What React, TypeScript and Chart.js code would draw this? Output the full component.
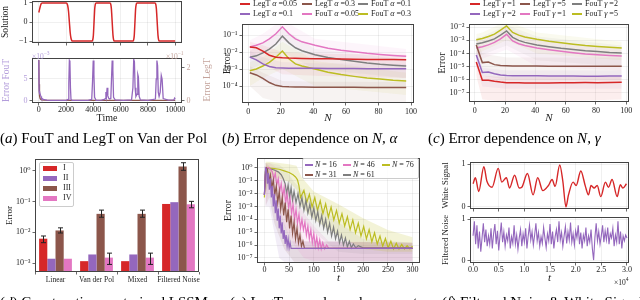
import React, { useEffect, useRef } from 'react';
import { Chart, registerables } from 'chart.js';

Chart.register(...registerables);

const FONT = "'Liberation Serif', 'DejaVu Serif', 'Times New Roman', serif";
Chart.defaults.font.family = FONT;
Chart.defaults.font.size = 8;
Chart.defaults.color = '#222';

const RED = '#d62728';
const PURPLE = '#9467bd';
const BROWN = '#8c564b';
const PINK = '#e377c2';
const GRAY = '#7f7f7f';
const OLIVE = '#bcbd22';
const PURPLE_L = '#b39ddb';
const BROWN_L = '#c4a39b';
const GRID = 'rgba(0,0,0,0.08)';

// ---------------- (a) FouT and LegT on Van der Pol ----------------
const aXTicks = [0, 2000, 4000, 6000, 8000, 10000];
const aSolTicks = [-1, 0, 1];
const aSolT = [0, 50, 100, 150, 200, 260, 2000, 2060, 2120, 2180, 2240, 2300, 2360, 2420, 2480, 3900, 3950, 4000, 4050, 4100, 4150, 4200, 5220, 5270, 5320, 5380, 5440, 5490, 5540, 6900, 6950, 7000, 7050, 7100, 7150, 7200, 8520, 8570, 8620, 8680, 8740, 8790, 8840, 10000];
const aSolV = [0.5, 0.65, 0.8, 0.92, 0.98, 1.0, 1.0, 0.97, 0.85, 0.55, 0.0, -0.55, -0.85, -0.97, -1.0, -1.0, -0.95, -0.7, 0.0, 0.7, 0.95, 1.0, 1.0, 0.95, 0.7, 0.0, -0.7, -0.95, -1.0, -1.0, -0.95, -0.7, 0.0, 0.7, 0.95, 1.0, 1.0, 0.95, 0.7, 0.0, -0.7, -0.95, -1.0, -1.0];
// FouT error in units of 1e-3
const aFouT = [0, 20, 40, 80, 120, 160, 200, 300, 400, 600, 800, 1000, 1500, 2000, 2150, 2200, 2240, 2280, 2320, 2360, 2450, 3000, 3600, 3880, 3940, 3990, 4040, 4090, 4200, 4600, 4800, 4880, 4920, 4960, 5010, 5060, 5120, 5200, 5280, 5330, 5380, 5430, 5480, 5600, 6200, 6800, 6900, 6960, 7010, 7060, 7120, 7200, 7260, 7300, 7360, 7450, 8000, 8550, 8610, 8660, 8710, 8760, 8820, 8900, 8980, 9040, 9120, 9500, 9900, 9960, 10000];
const aFouV = [9.3, 2.2, 1.5, 2.0, 1.3, 1.0, 0.6, 0.4, 0.25, 0.15, 0.12, 0.1, 0.1, 0.1, 0.3, 4.0, 9.2, 8.8, 3.0, 0.3, 0.1, 0.08, 0.1, 0.3, 4.5, 9.2, 6.0, 0.8, 0.1, 0.15, 0.3, 0.5, 2.0, 1.0, 3.0, 1.2, 0.6, 0.4, 0.5, 5.0, 9.2, 7.0, 0.8, 0.2, 0.1, 0.2, 3.0, 9.5, 9.0, 3.0, 1.0, 1.5, 6.0, 5.5, 1.0, 0.2, 0.1, 0.4, 5.0, 9.2, 8.0, 2.0, 1.0, 2.0, 5.8, 5.0, 0.5, 0.15, 0.2, 0.6, 0.4];
const aFouTicks = [0, 5];
// LegT error in units of 1e-1
const aLegT = [0, 20, 50, 100, 200, 400, 1000, 3000, 5000, 7000, 9000, 10000];
const aLegV = [2.45, 1.0, 0.3, 0.12, 0.06, 0.04, 0.03, 0.03, 0.03, 0.03, 0.03, 0.03];
const aLegTicks = [0, 2];

// ---------------- (b) Error dependence on N, alpha ----------------
const bN = [1, 5, 9, 13, 17, 21, 25, 29, 33, 41, 49, 57, 65, 73, 81, 89, 97];
const bLegT005 = [2e-2, 1.8e-2, 1.15e-2, 6.5e-3, 5e-3, 4.6e-3, 4.4e-3, 4.3e-3, 4.2e-3, 4.1e-3, 4e-3, 3.9e-3, 3.8e-3, 3.7e-3, 3.7e-3, 3.6e-3, 3.5e-3];
const bLegT01 = [5e-3, 3.5e-3, 2e-3, 1.4e-3, 1.2e-3, 1.15e-3, 1.12e-3, 1.1e-3, 1.1e-3, 1.1e-3, 1.08e-3, 1.07e-3, 1.06e-3, 1.05e-3, 1.05e-3, 1.04e-3, 1.03e-3];
const bLegT03 = [6e-4, 4.5e-4, 2.8e-4, 1.6e-4, 1.1e-4, 9.5e-5, 9e-5, 8.8e-5, 8.7e-5, 8.6e-5, 8.5e-5, 8.4e-5, 8.4e-5, 8.3e-5, 8.3e-5, 8.2e-5, 8.2e-5];
const bFouT005 = [2e-2, 2.5e-2, 3.5e-2, 6e-2, 1.2e-1, 3.1e-1, 1.2e-1, 6e-2, 4e-2, 2.5e-2, 1.7e-2, 1.3e-2, 1.05e-2, 8.5e-3, 7.2e-3, 6.3e-3, 5.6e-3];
const bFouT01 = [5e-3, 6e-3, 9e-3, 1.5e-2, 3e-2, 8.7e-2, 3.5e-2, 1.8e-2, 1.2e-2, 7e-3, 4.8e-3, 3.6e-3, 2.9e-3, 2.3e-3, 1.9e-3, 1.7e-3, 1.5e-3];
const bFouT03 = [8e-4, 1e-3, 1.5e-3, 2.5e-3, 5e-3, 1.15e-2, 4e-3, 2e-3, 1.5e-3, 1e-3, 6.5e-4, 4.7e-4, 3.7e-4, 3e-4, 2.6e-4, 2.2e-4, 2e-4];
const bBandN = [1, 9, 21, 41, 97];
const bHiLegT005 = [4e-2, 2.5e-2, 1e-2, 8e-3, 7e-3];
const bLoLegT005 = [5e-3, 2e-3, 5e-4, 4e-4, 3e-4];
const bHiLegT01 = [1.2e-2, 5e-3, 2.5e-3, 2.2e-3, 2e-3];
const bLoLegT01 = [1e-3, 2e-4, 1e-4, 1e-4, 1e-4];
const bHiLegT03 = [1.5e-3, 6e-4, 2e-4, 1.8e-4, 1.7e-4];
const bLoLegT03 = [1e-4, 2e-5, 1e-5, 1e-5, 1e-5];
const bHiFouT005 = [5e-2, 1.2e-1, 8e-1, 6e-2, 1.5e-2];
const bLoFouT005 = [5e-3, 1e-2, 5e-2, 5e-3, 1.5e-3];
const bHiFouT01 = [1.2e-2, 3e-2, 2.5e-1, 1.5e-2, 3.5e-3];
const bLoFouT01 = [1e-3, 2e-3, 1e-2, 1e-3, 3e-4];
const bHiFouT03 = [2.5e-3, 5e-3, 4e-2, 3e-3, 6e-4];
const bLoFouT03 = [1e-4, 3e-4, 1e-3, 1e-4, 3e-5];
const bXTicks = [0, 20, 40, 60, 80, 100];
const bYTicks = [1e-4, 1e-3, 1e-2, 1e-1];

// ---------------- (c) Error dependence on N, gamma ----------------
const cN = [1, 5, 9, 13, 17, 21, 25, 29, 33, 41, 49, 57, 65, 73, 81, 89, 97];
const cLegT1 = [2.2e-5, 9e-7, 9e-7, 7.5e-7, 6.5e-7, 5.8e-7, 5.8e-7, 5.7e-7, 5.6e-7, 5.4e-7, 5.6e-7, 5.7e-7, 5.8e-7, 5.9e-7, 5.8e-7, 6e-7, 6.3e-7];
const cLegT2 = [7.5e-5, 3.5e-6, 3.8e-6, 2.8e-6, 2.3e-6, 2.1e-6, 2e-6, 2e-6, 2e-6, 1.95e-6, 1.9e-6, 1.9e-6, 1.9e-6, 1.85e-6, 1.85e-6, 1.9e-6, 1.9e-6];
const cLegT5 = [4.5e-4, 2e-5, 2.2e-5, 1.4e-5, 1.2e-5, 1.15e-5, 1.1e-5, 1.1e-5, 1.1e-5, 1.08e-5, 1.07e-5, 1.06e-5, 1.05e-5, 1.05e-5, 1.04e-5, 1.04e-5, 1.03e-5];
const cFouT1 = [2.6e-4, 3.3e-4, 4.5e-4, 7e-4, 1.3e-3, 2.9e-3, 9e-4, 5.5e-4, 4e-4, 2.6e-4, 1.9e-4, 1.45e-4, 1.15e-4, 9e-5, 8e-5, 7e-5, 6.3e-5];
const cFouT2 = [5.2e-4, 6.5e-4, 9e-4, 1.3e-3, 2.5e-3, 5.2e-3, 1.7e-3, 1e-3, 7e-4, 4.5e-4, 3.3e-4, 2.5e-4, 2e-4, 1.6e-4, 1.4e-4, 1.2e-4, 1.1e-4];
const cFouT5 = [1.1e-3, 1.4e-3, 2e-3, 3e-3, 6e-3, 1.27e-2, 4e-3, 2.5e-3, 1.8e-3, 1.2e-3, 8.5e-4, 6.5e-4, 5e-4, 4e-4, 3.4e-4, 3e-4, 2.6e-4];
const cBandN = [1, 5, 21, 41, 97];
const cHiLegT1 = [5e-5, 2e-6, 1.5e-6, 1.5e-6, 1.6e-6];
const cLoLegT1 = [2e-6, 3e-8, 2e-8, 2e-8, 3e-8];
const cHiLegT2 = [2e-4, 8e-6, 5e-6, 5e-6, 5e-6];
const cLoLegT2 = [1e-5, 3e-7, 2e-7, 2e-7, 2e-7];
const cHiLegT5 = [1.5e-3, 1e-4, 5e-5, 5e-5, 5e-5];
const cLoLegT5 = [8e-5, 2e-6, 1e-6, 1e-6, 1e-6];
const cHiFouT1 = [8e-4, 1e-3, 1e-2, 1e-3, 2e-4];
const cLoFouT1 = [3e-5, 4e-5, 2e-4, 1e-5, 5e-6];
const cHiFouT2 = [1.5e-3, 2e-3, 1.5e-2, 2e-3, 4e-4];
const cLoFouT2 = [6e-5, 8e-5, 4e-4, 3e-5, 1e-5];
const cHiFouT5 = [3e-3, 4e-3, 3e-2, 4e-3, 8e-4];
const cLoFouT5 = [1e-4, 1.5e-4, 1e-3, 1e-4, 3e-5];
const cYTicks = [1e-7, 1e-6, 1e-5, 1e-4, 1e-3, 1e-2];

// ---------------- (d) Construction vs. trained LSSM ----------------
const dCats = ['Linear', 'Van der Pol', 'Mixed', 'Filtered Noise'];
const dLegend = ['I', 'II', 'III', 'IV'];
const dI = [6.2e-3, 1.15e-3, 1.15e-3, 8.4e-2];
const dII = [1.38e-3, 1.9e-3, 1.9e-3, 9.6e-2];
const dIII = [1.15e-2, 4e-2, 4e-2, 1.4];
const dIV = [1.38e-3, 1.5e-3, 1.5e-3, 8.2e-2];
const dLoI = [4.6e-3, null, null, null];
const dHiI = [7.6e-3, null, null, null];
const dLoIII = [9.5e-3, 3.1e-2, 3.1e-2, 1.05];
const dHiIII = [1.4e-2, 5.3e-2, 5.3e-2, 1.85];
const dLoIV = [null, 9e-4, 9e-4, 6.3e-2];
const dHiIV = [null, 2.1e-3, 2.1e-3, 1.02e-1];
const dYTicks = [1e-3, 1e-2, 1e-1, 1];

// ---------------- (e) LegT error dependence on t ----------------
const eXTicks = [0, 50, 100, 150, 200, 250, 300];
const eYTicks = [1e-7, 1e-6, 1e-5, 1e-4, 1e-3, 1e-2, 1e-1, 1];
const eT16 = [0, 2, 4, 6, 8, 10, 12, 14, 16, 18, 20, 22, 24, 26, 28, 30, 32, 34, 36, 38, 40, 42, 44, 46, 48, 50, 52, 54, 300];
const eV16 = [8e-3, 1.0, 8e-1, 6e-2, 4e-1, 2e-2, 1.5e-1, 5e-3, 4e-2, 1e-3, 1e-2, 3e-4, 3e-3, 8e-5, 7e-4, 2e-5, 2e-4, 8e-6, 6e-5, 3e-6, 1.5e-5, 1.2e-6, 6e-6, 8e-7, 3e-6, 6e-7, 1.5e-6, 5.5e-7, 5.5e-7];
const eT31 = [0, 2, 4, 6, 9, 12, 15, 18, 21, 24, 27, 30, 33, 36, 39, 42, 45, 48, 51, 54, 57, 60, 63, 66, 69, 72, 75, 78, 81, 300];
const eV31 = [8e-3, 3e-1, 1.0, 8e-1, 1e-1, 3e-1, 3e-2, 1.2e-1, 8e-3, 4e-2, 2e-3, 1.5e-2, 6e-4, 5e-3, 2e-4, 2e-3, 6e-5, 6e-4, 2e-5, 2e-4, 8e-6, 6e-5, 3e-6, 2e-5, 1.5e-6, 6e-6, 8e-7, 2e-6, 5.5e-7, 5.5e-7];
const eT46 = [0, 2, 4, 8, 12, 16, 19, 22, 25, 28, 31, 34, 37, 40, 43, 46, 49, 52, 55, 58, 61, 64, 67, 70, 73, 76, 79, 82, 85, 88, 91, 94, 97, 100, 103, 106, 109, 112, 115, 118, 122, 126, 130, 300];
const eV46 = [8e-3, 3e-1, 1.0, 1.1, 8e-1, 5e-1, 1.5e-1, 4e-1, 5e-2, 1.5e-1, 1.5e-2, 6e-2, 6e-3, 3e-2, 2e-3, 1e-2, 8e-4, 4e-3, 3e-4, 1.5e-3, 1e-4, 6e-4, 5e-5, 2.5e-4, 2e-5, 1e-4, 1.5e-5, 6e-5, 6e-6, 3e-5, 3e-6, 1.5e-5, 1.5e-6, 8e-6, 8e-7, 4e-6, 6e-7, 2.5e-6, 5e-7, 1.5e-6, 5e-7, 1e-6, 5.5e-7, 5.5e-7];
const eT61 = [0, 2, 4, 10, 20, 28, 34, 38, 42, 45, 48, 51, 54, 57, 60, 64, 68, 72, 76, 80, 84, 88, 92, 96, 100, 104, 108, 112, 116, 120, 124, 128, 132, 136, 140, 144, 148, 152, 156, 160, 164, 168, 172, 176, 180, 185, 190, 200, 300];
const eV61 = [8e-3, 5e-1, 9e-1, 9e-1, 7e-1, 5e-1, 3e-1, 1.5e-1, 6e-2, 1e-2, 5e-2, 5e-3, 3e-2, 3e-3, 1.5e-2, 2e-3, 1e-2, 1e-3, 5e-3, 5e-4, 3e-3, 3e-4, 1.5e-3, 1.5e-4, 8e-4, 8e-5, 4e-4, 4e-5, 2e-4, 2e-5, 1e-4, 1e-5, 5e-5, 5e-6, 2.5e-5, 3e-6, 1.2e-5, 1.5e-6, 6e-6, 1e-6, 3.5e-6, 7e-7, 2e-6, 6e-7, 1.2e-6, 6e-7, 9e-7, 6e-7, 6e-7];
const eT76 = [0, 2, 4, 10, 20, 30, 40, 50, 58, 63, 67, 70, 73, 80, 85.5, 91, 96.5, 102, 107.5, 113, 118.5, 124, 129.5, 135, 140.5, 146, 151.5, 157, 162.5, 168, 173.5, 179, 184.5, 190, 195.5, 201, 206.5, 212, 217.5, 223, 228.5, 234, 239.5, 245, 250.5, 256, 261.5, 267, 272.5, 278, 283.5, 289, 294.5, 300];
const eV76 = [5e-3, 6e-1, 1.0, 1.0, 9e-1, 8e-1, 6e-1, 4.5e-1, 3e-1, 2e-1, 1.2e-1, 4e-2, 5e-3, 1.8e-2, 2e-3, 9e-3, 9e-4, 5e-3, 5e-4, 2.8e-3, 2.8e-4, 1.6e-3, 1.5e-4, 9e-4, 9e-5, 5e-4, 5e-5, 2.8e-4, 3e-5, 1.6e-4, 1.6e-5, 9e-5, 9e-6, 5e-5, 5e-6, 2.8e-5, 3e-6, 1.6e-5, 1.8e-6, 9e-6, 1.2e-6, 5e-6, 8e-7, 3.2e-6, 6e-7, 2e-6, 5e-7, 1.4e-6, 5e-7, 1.1e-6, 5e-7, 9e-7, 5e-7, 8e-7];
const eBT76 = [2, 10, 30, 50, 65, 75, 100, 150, 200, 250, 300];
const eHi76 = [3, 3, 2.5, 2, 1.5, 2e-1, 1.5e-2, 1.5e-3, 1.2e-4, 1.5e-5, 4e-6];
const eLo76 = [1e-2, 2e-1, 1.5e-1, 8e-2, 2e-2, 1e-3, 1e-4, 5e-6, 5e-7, 3e-7, 3e-7];
const eBT61 = [2, 10, 30, 45, 60, 100, 150, 200, 300];
const eHi61 = [2.5, 2.5, 1.8, 6e-1, 8e-2, 3e-3, 6e-5, 3e-6, 1.5e-6];
const eLo61 = [1e-2, 1e-1, 5e-2, 3e-3, 3e-4, 1e-5, 3e-7, 2e-7, 2e-7];
const eBT46 = [2, 10, 20, 40, 60, 80, 100, 130, 300];
const eHi46 = [2.5, 2.5, 1.5, 1e-1, 5e-3, 3e-4, 3e-5, 2e-6, 1.5e-6];
const eLo46 = [1e-3, 3e-2, 5e-3, 3e-5, 1e-6, 1e-7, 6e-8, 6e-8, 6e-8];
const eBT31 = [2, 10, 20, 40, 60, 80, 300];
const eHi31 = [2.5, 1.5, 3e-1, 1e-2, 3e-4, 2e-6, 1.5e-6];
const eLo31 = [1e-3, 5e-3, 5e-5, 5e-7, 5e-8, 5e-8, 5e-8];
const eBT16 = [2, 10, 20, 30, 40, 55, 300];
const eHi16 = [2.5, 8e-1, 5e-2, 1e-3, 5e-5, 2e-6, 1.5e-6];
const eLo16 = [1e-3, 1e-3, 1e-5, 1e-7, 5e-8, 5e-8, 5e-8];

// ---------------- (f) Filtered Noise & White Signal (t in units of 1e4) ----------------
const fXTicks = [0, 0.5, 1.0, 1.5, 2.0, 2.5, 3.0];
const fYTicks = [0, 1];
const fWhiteT = [0, 0.045, 0.11, 0.21, 0.27, 0.37, 0.49, 0.56, 0.65, 0.71, 0.81, 0.9, 0.95, 1.06, 1.17, 1.26, 1.36, 1.47, 1.54, 1.6, 1.69, 1.75, 1.81, 1.86, 1.95, 2.01, 2.1, 2.19, 2.25, 2.3, 2.36, 2.42, 2.49, 2.58, 2.64, 2.71, 2.81, 2.87, 2.92, 2.99];
const fWhiteV = [0.54, 0.68, 0.36, 0.94, 0.6, 0.46, 0.9, 0.58, 0.68, 0.44, 0.74, 0.44, 0.46, 0.78, 0.28, 0.68, 0.38, 0.5, 0.64, 0.48, 0.98, 0.6, 0.0, 0.28, 0.58, 0.5, 0.84, 0.48, 0.28, 0.5, 0.44, 0.5, 0.24, 0.58, 0.46, 0.64, 0.24, 0.52, 0.44, 0.54];
const fNoiseT = [0, 0.025, 0.05, 0.075, 0.1, 0.125, 0.15, 0.175, 0.2, 0.225, 0.25, 0.275, 0.3, 0.325, 0.35, 0.375, 0.4, 0.425, 0.45, 0.475, 0.5, 0.525, 0.55, 0.575, 0.6, 0.625, 0.65, 0.675, 0.7, 0.725, 0.75, 0.775, 0.8, 0.825, 0.85, 0.875, 0.9, 0.925, 0.95, 0.975, 1.0, 1.025, 1.05, 1.075, 1.1, 1.125, 1.15, 1.175, 1.2, 1.225, 1.25, 1.275, 1.3, 1.325, 1.35, 1.375, 1.4, 1.425, 1.45, 1.475, 1.5, 1.525, 1.55, 1.575, 1.6, 1.625, 1.65, 1.675, 1.7, 1.725, 1.75, 1.775, 1.8, 1.825, 1.85, 1.875, 1.9, 1.925, 1.95, 1.975, 2.0, 2.025, 2.05, 2.075, 2.1, 2.125, 2.15, 2.175, 2.2, 2.225, 2.25, 2.275, 2.3, 2.325, 2.35, 2.375, 2.4, 2.425, 2.45, 2.475, 2.5, 2.525, 2.55, 2.575, 2.6, 2.625, 2.65, 2.675, 2.7, 2.725, 2.75, 2.775, 2.8, 2.825, 2.85, 2.875, 2.9, 2.925, 2.95, 2.975, 3.0];
const fNoiseV = [0.6, 0.95, 0.4, 0.85, 0.3, 0.7, 0.22, 0.55, 0.9, 0.45, 0.75, 0.35, 0.6, 0.4, 0.78, 0.3, 0.65, 0.88, 0.4, 0.72, 0.25, 0.6, 0.92, 0.45, 0.7, 0.35, 0.62, 0.48, 0.8, 0.3, 0.58, 0.42, 0.85, 0.4, 0.62, 0.28, 0.55, 0.75, 0.35, 0.65, 0.45, 0.78, 0.3, 0.6, 0.85, 0.5, 0.7, 0.38, 0.62, 0.9, 0.48, 0.68, 0.35, 0.58, 0.42, 0.8, 0.55, 0.32, 0.65, 0.48, 0.88, 0.4, 0.7, 0.3, 0.58, 0.75, 0.45, 0.95, 0.5, 0.68, 0.35, 0.6, 0.82, 0.42, 0.7, 0.5, 0.92, 0.45, 0.65, 0.38, 0.72, 0.55, 0.85, 0.4, 0.68, 0.3, 0.62, 0.48, 0.8, 0.35, 0.6, 0.45, 0.75, 0.3, 0.02, 0.55, 0.9, 0.48, 0.7, 0.4, 0.6, 0.85, 0.45, 0.72, 0.5, 0.8, 0.4, 0.65, 0.55, 0.78, 0.35, 0.62, 0.45, 0.95, 0.4, 0.7, 0.3, 0.6, 0.48, 0.62, 0.55];

// ---------------- helpers ----------------
const pts = (xs: number[], ys: number[]) => xs.map((x, i) => ({ x, y: ys[i] }));
function rgba(hex: string, a: number) {
  const n = parseInt(hex.slice(1), 16);
  return `rgba(${n >> 16},${(n >> 8) & 255},${n & 255},${a})`;
}
function line(xs: number[], ys: number[], color: string, width = 1.5, extra: any = {}) {
  return { data: pts(xs, ys), borderColor: color, borderWidth: width, pointRadius: 0, fill: false, tension: 0, ...extra };
}
function band(xs: number[], hi: number[], lo: number[], color: string, a: number) {
  return [
    { data: pts(xs, hi), borderWidth: 0, borderColor: 'transparent', pointRadius: 0, backgroundColor: rgba(color, a), fill: '+1', tension: 0 },
    { data: pts(xs, lo), borderWidth: 0, borderColor: 'transparent', pointRadius: 0, fill: false, tension: 0 },
  ];
}
const SUP: Record<string, string> = { '-': '\u207B', '0': '\u2070', '1': '\u00B9', '2': '\u00B2', '3': '\u00B3', '4': '\u2074', '5': '\u2075', '6': '\u2076', '7': '\u2077', '8': '\u2078', '9': '\u2079' };
const fmtPow = (v: number) => '10' + String(Math.round(Math.log10(v))).split('').map((c) => SUP[c]).join('');
const fmtInt = (v: number) => String(v);
const fmtSigned = (v: number) => (v < 0 ? '\u2212' + Math.abs(v) : String(v));
const fmtOne = (v: number) => v.toFixed(1);
const fmtCat = (v: number) => dCats[v];

function yAxis(o: any) {
  return {
    type: o.type || 'linear', position: o.position || 'left', min: o.min, max: o.max,
    afterBuildTicks: (s: any) => { s.ticks = o.ticks.map((v: number) => ({ value: v })); },
    afterFit: (s: any) => { s.width = o.width; s.paddingTop = 0; s.paddingBottom = 0; },
    ticks: { callback: (v: any) => o.fmt(Number(v)), color: o.color || '#222', font: { size: 8, family: FONT }, padding: 2, autoSkip: false, maxRotation: 0, minRotation: 0 },
    grid: { display: true, drawOnChartArea: o.grid !== false, color: GRID, tickColor: '#444', tickLength: 2.5, lineWidth: 0.8 },
    border: { display: false },
    title: o.title ? { display: true, text: o.title, color: o.color || '#222', font: { size: o.titleSize || 10, family: FONT }, padding: { top: o.titlePad || 0, bottom: 0 } } : { display: false },
  };
}
function xAxis(o: any) {
  const ax: any = {
    type: o.type || 'linear', position: 'bottom',
    afterFit: (s: any) => { s.height = o.height; s.paddingLeft = 0; s.paddingRight = 0; },
    ticks: { display: o.labels !== false, callback: (v: any) => (o.fmt ? o.fmt(Number(v)) : String(v)), color: '#222', font: { size: o.tickSize || 8, family: FONT }, padding: o.tickPad ?? 0, autoSkip: false, maxRotation: 0, minRotation: 0 },
    grid: { display: true, drawOnChartArea: o.grid !== false, color: GRID, tickColor: '#444', tickLength: 2.5, lineWidth: 0.8 },
    border: { display: false },
    title: o.title ? { display: true, text: o.title, color: '#222', font: { size: o.titleSize || 10, family: FONT, style: o.italic ? 'italic' : 'normal' }, padding: { top: 0, bottom: o.titlePad || 0 } } : { display: false },
  };
  if (o.min !== undefined) { ax.min = o.min; ax.max = o.max; }
  if (o.ticks) ax.afterBuildTicks = (s: any) => { s.ticks = o.ticks.map((v: number) => ({ value: v })); };
  return ax;
}
const framePlugin = {
  id: 'frame',
  afterDatasetsDraw(chart: any) {
    const { ctx, chartArea: a } = chart;
    ctx.save();
    ctx.strokeStyle = '#444';
    ctx.lineWidth = 1;
    ctx.strokeRect(Math.round(a.left) + 0.5, Math.round(a.top) + 0.5, Math.round(a.right - a.left) - 1, Math.round(a.bottom - a.top) - 1);
    ctx.restore();
  },
};
const errorBarPlugin = {
  id: 'errbars',
  afterDatasetsDraw(chart: any) {
    const { ctx } = chart;
    const ys = chart.scales.y;
    ctx.save();
    ctx.strokeStyle = '#222';
    ctx.lineWidth = 1;
    chart.data.datasets.forEach((ds: any, i: number) => {
      if (!ds.errLo) return;
      chart.getDatasetMeta(i).data.forEach((el: any, j: number) => {
        const lo = ds.errLo[j], hi = ds.errHi[j];
        if (lo == null || hi == null) return;
        const x = Math.round(el.x) + 0.5, y1 = ys.getPixelForValue(lo), y2 = ys.getPixelForValue(hi);
        ctx.beginPath();
        ctx.moveTo(x, y1); ctx.lineTo(x, y2);
        ctx.moveTo(x - 2.5, y1); ctx.lineTo(x + 2.5, y1);
        ctx.moveTo(x - 2.5, y2); ctx.lineTo(x + 2.5, y2);
        ctx.stroke();
      });
    });
    ctx.restore();
  },
};
function base(padding: any, scales: any) {
  return {
    responsive: false, animation: false, devicePixelRatio: 1,
    layout: { padding },
    plugins: { legend: { display: false }, tooltip: { enabled: false }, filler: { drawTime: 'beforeDatasetsDraw' } },
    scales,
  };
}

// ---------------- chart configs ----------------
const cfgATop = () => ({
  type: 'line',
  data: { datasets: [line(aSolT, aSolV, RED, 1.5, { cubicInterpolationMode: 'monotone' })] },
  options: base({ top: 1, right: 4, bottom: 0, left: 0 }, {
    x: xAxis({ min: -500, max: 10500, ticks: aXTicks, height: 3, labels: false }),
    y: yAxis({ min: -1.1, max: 1.1, ticks: aSolTicks, width: 32, fmt: fmtSigned, title: 'Solution', titleSize: 9.5, titlePad: 0 }),
  }),
  plugins: [framePlugin],
});
const cfgABot = () => ({
  type: 'line',
  data: {
    datasets: [
      line(aFouT, aFouV, PURPLE, 1.3, { yAxisID: 'y' }),
      line(aLegT, aLegV, BROWN, 1.3, { yAxisID: 'y2' }),
    ],
  },
  options: base({ top: 8, right: 0, bottom: 0, left: 0 }, {
    x: xAxis({ min: -500, max: 10500, ticks: aXTicks, height: 23, fmt: fmtInt, title: 'Time', titlePad: 2 }),
    y: yAxis({ min: -0.5, max: 9.8, ticks: aFouTicks, width: 32, fmt: fmtInt, title: 'Error FouT', titleSize: 9.5, titlePad: 1, color: PURPLE_L }),
    y2: yAxis({ position: 'right', min: -0.13, max: 2.57, ticks: aLegTicks, width: 33, fmt: fmtInt, color: BROWN_L, grid: false }),
  }),
  plugins: [framePlugin],
});
const cfgB = () => ({
  type: 'line',
  data: {
    datasets: [
      line(bN, bLegT005, RED), line(bN, bLegT01, PURPLE), line(bN, bLegT03, BROWN),
      line(bN, bFouT005, PINK), line(bN, bFouT01, GRAY), line(bN, bFouT03, OLIVE),
      ...band(bBandN, bHiLegT005, bLoLegT005, RED, 0.07),
      ...band(bBandN, bHiLegT01, bLoLegT01, PURPLE, 0.07),
      ...band(bBandN, bHiLegT03, bLoLegT03, BROWN, 0.07),
      ...band(bBandN, bHiFouT005, bLoFouT005, PINK, 0.07),
      ...band(bBandN, bHiFouT01, bLoFouT01, GRAY, 0.07),
      ...band(bBandN, bHiFouT03, bLoFouT03, OLIVE, 0.07),
    ],
  },
  options: base({ top: 24, right: 11, bottom: 0, left: 0 }, {
    x: xAxis({ min: -3.8, max: 101.8, ticks: bXTicks, height: 23, fmt: fmtInt, title: 'N', italic: true, titleSize: 11, titlePad: 1, tickPad: 2 }),
    y: yAxis({ type: 'logarithmic', min: 1e-5, max: 0.45, ticks: bYTicks, width: 32, fmt: fmtPow, title: 'Error', titlePad: 11 }),
  }),
  plugins: [framePlugin],
});
const cfgC = () => ({
  type: 'line',
  data: {
    datasets: [
      line(cN, cLegT1, RED), line(cN, cLegT2, PURPLE), line(cN, cLegT5, BROWN),
      line(cN, cFouT1, PINK), line(cN, cFouT2, GRAY), line(cN, cFouT5, OLIVE),
      ...band(cBandN, cHiLegT1, cLoLegT1, RED, 0.08),
      ...band(cBandN, cHiLegT2, cLoLegT2, PURPLE, 0.07),
      ...band(cBandN, cHiLegT5, cLoLegT5, BROWN, 0.07),
      ...band(cBandN, cHiFouT1, cLoFouT1, PINK, 0.07),
      ...band(cBandN, cHiFouT2, cLoFouT2, GRAY, 0.07),
      ...band(cBandN, cHiFouT5, cLoFouT5, OLIVE, 0.07),
    ],
  },
  options: base({ top: 24, right: 11, bottom: 0, left: 0 }, {
    x: xAxis({ min: -3.8, max: 101.8, ticks: bXTicks, height: 24, fmt: fmtInt, title: 'N', italic: true, titleSize: 11, titlePad: 1, tickPad: 2 }),
    y: yAxis({ type: 'logarithmic', min: 1.95e-8, max: 0.0178, ticks: cYTicks, width: 44, fmt: fmtPow, title: 'Error', titlePad: 11 }),
  }),
  plugins: [framePlugin],
});
const cfgD = () => ({
  type: 'bar',
  data: {
    labels: dCats,
    datasets: [
      { label: dLegend[0], data: dI, backgroundColor: RED, errLo: dLoI, errHi: dHiI },
      { label: dLegend[1], data: dII, backgroundColor: PURPLE },
      { label: dLegend[2], data: dIII, backgroundColor: BROWN, errLo: dLoIII, errHi: dHiIII },
      { label: dLegend[3], data: dIV, backgroundColor: PINK, errLo: dLoIV, errHi: dHiIV },
    ],
  },
  options: {
    ...base({ top: 9, right: 11, bottom: 0, left: 0 }, {
      x: xAxis({ type: 'category', height: 14, tickSize: 7.5, grid: false, tickPad: 1, fmt: fmtCat }),
      y: yAxis({ type: 'logarithmic', min: 5.1e-4, max: 2.45, ticks: dYTicks, width: 35, fmt: fmtPow, title: 'Error', titleSize: 9, titlePad: 4, grid: false }),
    }),
    datasets: { bar: { categoryPercentage: 0.8, barPercentage: 1.0 } },
  },
  plugins: [framePlugin, errorBarPlugin],
});
const cfgE = () => ({
  type: 'line',
  data: {
    datasets: [
      line(eT16, eV16, PURPLE, 1.2), line(eT31, eV31, BROWN, 1.2), line(eT46, eV46, PINK, 1.2),
      line(eT61, eV61, GRAY, 1.2), line(eT76, eV76, OLIVE, 1.2),
      ...band(eBT76, eHi76, eLo76, OLIVE, 0.18),
      ...band(eBT61, eHi61, eLo61, GRAY, 0.1),
      ...band(eBT46, eHi46, eLo46, PINK, 0.12),
      ...band(eBT31, eHi31, eLo31, BROWN, 0.12),
      ...band(eBT16, eHi16, eLo16, PURPLE, 0.12),
    ],
  },
  options: base({ top: 8, right: 5, bottom: 0, left: 0 }, {
    x: xAxis({ min: -15, max: 315, ticks: eXTicks, height: 23, fmt: fmtInt, title: 't', italic: true, titleSize: 11, titlePad: 1 }),
    y: yAxis({ type: 'logarithmic', min: 4e-8, max: 6, ticks: eYTicks, width: 47, fmt: fmtPow, title: 'Error', titlePad: 12 }),
  }),
  plugins: [framePlugin],
});
const cfgFTop = () => ({
  type: 'line',
  data: { datasets: [line(fWhiteT, fWhiteV, RED, 1.4, { cubicInterpolationMode: 'monotone' })] },
  options: base({ top: 12, right: 11, bottom: 0, left: 0 }, {
    x: xAxis({ min: -0.06, max: 3.04, ticks: fXTicks, height: 3, labels: false }),
    y: yAxis({ min: -0.05, max: 1.05, ticks: fYTicks, width: 45, fmt: fmtInt, title: 'White Signal', titleSize: 8.8, titlePad: 15 }),
  }),
  plugins: [framePlugin],
});
const cfgFBot = () => ({
  type: 'line',
  data: { datasets: [line(fNoiseT, fNoiseV, PURPLE, 1.1)] },
  options: base({ top: 5, right: 11, bottom: 0, left: 0 }, {
    x: xAxis({ min: -0.06, max: 3.04, ticks: fXTicks, height: 23, fmt: fmtOne, title: 't', italic: true, titleSize: 11, titlePad: 1 }),
    y: yAxis({ min: -0.05, max: 1.05, ticks: fYTicks, width: 45, fmt: fmtInt, title: 'Filtered Noise', titleSize: 8.8, titlePad: 15 }),
  }),
  plugins: [framePlugin],
});

// ---------------- components ----------------
function Panel({ left, top, width, height, make }: any) {
  const ref = useRef<HTMLCanvasElement>(null);
  useEffect(() => {
    const chart = new Chart(ref.current as HTMLCanvasElement, make());
    return () => chart.destroy();
  }, []);
  return (
    <div style={{ position: 'absolute', left, top, width, height }}>
      <canvas ref={ref} width={width} height={height} style={{ display: 'block', width, height }} />
    </div>
  );
}
function Txt({ x, y, size = 8, color = '#222', children, style = {} }: any) {
  const lh = Math.round(size * 1.2);
  return (
    <div style={{ position: 'absolute', left: x, top: y - lh / 2, fontSize: size, lineHeight: lh + 'px', fontFamily: FONT, color, whiteSpace: 'nowrap', ...style }}>
      {children}
    </div>
  );
}
function Key({ x, y, color, w = 10 }: any) {
  return <div style={{ position: 'absolute', left: x, top: y - 1, width: w, height: 0, borderTop: `2px solid ${color}` }} />;
}
function Patch({ x, y, color }: any) {
  return <div style={{ position: 'absolute', left: x, top: y - 2.5, width: 14, height: 5, background: color }} />;
}

const bLegendLabels = ['0.05', '0.3', '0.1', '0.1', '0.05', '0.3'];
const cLegendLabels = ['1', '5', '2', '2', '1', '5'];

export default function App() {
  const cap = { fontSize: 15, lineHeight: '17px', fontFamily: FONT, color: '#000' };
  return (
    <div style={{ position: 'absolute', left: 0, top: 0, width: 640, height: 300, background: '#fff', overflow: 'hidden', fontFamily: FONT }}>
      <Panel left={0} top={0} width={186} height={46} make={cfgATop} />
      <Panel left={0} top={50} width={215} height={76} make={cfgABot} />
      <Txt x={32} y={53} size={7.5} color={PURPLE_L}>×10<sup style={{ fontSize: 5.5 }}>−3</sup></Txt>
      <Txt x={166} y={53} size={7.5} color={BROWN_L}>×10<sup style={{ fontSize: 5.5 }}>−1</sup></Txt>
      <div style={{ position: 'absolute', left: 207, top: 80, width: 0, height: 0 }}>
        <div style={{ position: 'absolute', left: -30, top: -6, width: 60, textAlign: 'center', fontSize: 9.5, lineHeight: '12px', fontFamily: FONT, color: BROWN_L, transform: 'rotate(-90deg)', whiteSpace: 'nowrap' }}>Error LegT</div>
      </div>

      <Panel left={210} top={0} width={215} height={126} make={cfgB} />
      <Key x={240} y={4} color={RED} /><Txt x={253} y={4}>LegT <i>α</i> ={bLegendLabels[0]}</Txt>
      <Key x={302} y={4} color={BROWN} /><Txt x={315} y={4}>LegT <i>α</i> ={bLegendLabels[1]}</Txt>
      <Key x={358} y={4} color={GRAY} /><Txt x={371} y={4}>FouT <i>α</i> ={bLegendLabels[2]}</Txt>
      <Key x={240} y={14} color={PURPLE} /><Txt x={253} y={14}>LegT <i>α</i> ={bLegendLabels[3]}</Txt>
      <Key x={302} y={14} color={PINK} /><Txt x={315} y={14}>FouT <i>α</i> ={bLegendLabels[4]}</Txt>
      <Key x={358} y={14} color={OLIVE} /><Txt x={371} y={14}>FouT <i>α</i> ={bLegendLabels[5]}</Txt>

      <Panel left={425} top={0} width={215} height={126} make={cfgC} />
      <Key x={470} y={4} color={RED} /><Txt x={483} y={4}>LegT <i>γ</i> ={cLegendLabels[0]}</Txt>
      <Key x={520} y={4} color={BROWN} /><Txt x={533} y={4}>LegT <i>γ</i> ={cLegendLabels[1]}</Txt>
      <Key x={572} y={4} color={GRAY} /><Txt x={585} y={4}>FouT <i>γ</i> ={cLegendLabels[2]}</Txt>
      <Key x={470} y={14} color={PURPLE} /><Txt x={483} y={14}>LegT <i>γ</i> ={cLegendLabels[3]}</Txt>
      <Key x={520} y={14} color={PINK} /><Txt x={533} y={14}>FouT <i>γ</i> ={cLegendLabels[4]}</Txt>
      <Key x={572} y={14} color={OLIVE} /><Txt x={585} y={14}>FouT <i>γ</i> ={cLegendLabels[5]}</Txt>

      <div style={{ position: 'absolute', left: 0, top: 130, whiteSpace: 'nowrap', ...cap }}>(<i>a</i>) FouT and LegT on Van der Pol</div>
      <div style={{ position: 'absolute', left: 222, top: 130, whiteSpace: 'nowrap', ...cap }}>(<i>b</i>) Error dependence on <i>N</i>, <i>α</i></div>
      <div style={{ position: 'absolute', left: 428, top: 130, whiteSpace: 'nowrap', ...cap }}>(<i>c</i>) Error dependence on <i>N</i>, <i>γ</i></div>

      <Panel left={0} top={150} width={210} height={136} make={cfgD} />
      <div style={{ position: 'absolute', left: 39, top: 162, width: 35, height: 45, border: '1px solid #ccc', borderRadius: 2, background: 'rgba(255,255,255,0.85)', boxSizing: 'border-box' }} />
      <Patch x={43} y={168} color={RED} /><Txt x={63} y={168}>{dLegend[0]}</Txt>
      <Patch x={43} y={178} color={PURPLE} /><Txt x={63} y={178}>{dLegend[1]}</Txt>
      <Patch x={43} y={188} color={BROWN} /><Txt x={63} y={188}>{dLegend[2]}</Txt>
      <Patch x={43} y={198} color={PINK} /><Txt x={63} y={198}>{dLegend[3]}</Txt>

      <Panel left={210} top={150} width={215} height={136} make={cfgE} />
      <div style={{ position: 'absolute', left: 302, top: 158, width: 117, height: 21, border: '1px solid #ccc', borderRadius: 2, background: 'rgba(255,255,255,0.85)', boxSizing: 'border-box' }} />
      <Key x={305} y={165} color={PURPLE} w={8} /><Txt x={315} y={165}><i>N</i> = 16</Txt>
      <Key x={343} y={165} color={PINK} w={8} /><Txt x={353} y={165}><i>N</i> = 46</Txt>
      <Key x={382} y={165} color={OLIVE} w={8} /><Txt x={392} y={165}><i>N</i> = 76</Txt>
      <Key x={305} y={175} color={BROWN} w={8} /><Txt x={315} y={175}><i>N</i> = 31</Txt>
      <Key x={343} y={175} color={GRAY} w={8} /><Txt x={353} y={175}><i>N</i> = 61</Txt>

      <Panel left={425} top={150} width={215} height={62} make={cfgFTop} />
      <Panel left={425} top={212} width={215} height={74} make={cfgFBot} />
      <Txt x={614} y={279} size={7.5}>×10<sup style={{ fontSize: 5.5 }}>4</sup></Txt>

      <div style={{ position: 'absolute', left: 0, top: 294, whiteSpace: 'nowrap', ...cap }}>(<i>d</i>) Construction vs. trained LSSM</div>
      <div style={{ position: 'absolute', left: 230, top: 294, whiteSpace: 'nowrap', ...cap }}>(<i>e</i>) LegT error dependence on <i>t</i></div>
      <div style={{ position: 'absolute', left: 442, top: 294, whiteSpace: 'nowrap', ...cap }}>(<i>f</i>) Filtered Noise &amp; White Signal</div>
    </div>
  );
}
